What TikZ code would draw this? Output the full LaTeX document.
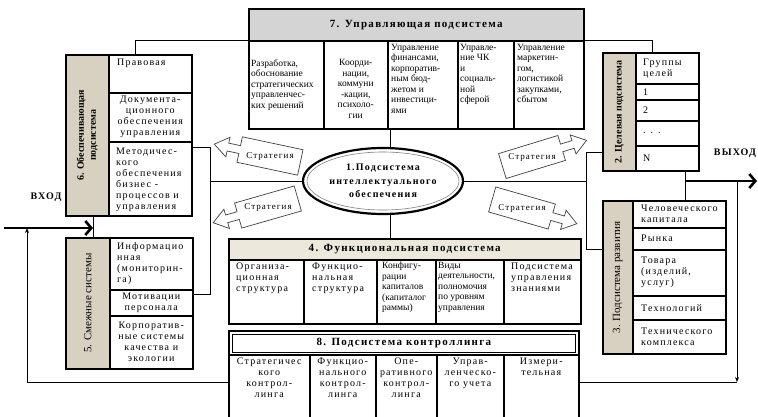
\documentclass[tikz,border=0pt]{standalone}
\usepackage{fontspec}
\setmainfont{Liberation Serif}
\newfontfamily\trackedserif[LetterSpace=12]{Liberation Serif}
\usetikzlibrary{shapes.geometric,arrows.meta,calc}
\pgfdeclarelayer{paper}
\pgfdeclarelayer{lines}
\pgfsetlayers{paper,lines,main}

\definecolor{headgray}{RGB}{212,212,212}
\definecolor{sidetan}{RGB}{216,209,193}
\definecolor{lighttan}{RGB}{236,232,220}

\newcommand\cellfont{\trackedserif\fontsize{10}{11}\selectfont}
\newcommand\tightfont{\rmfamily\fontsize{9.5}{10.5}\selectfont}
\newcommand\headfont{\trackedserif\bfseries\fontsize{11}{13}\selectfont}

\tikzset{
  frame/.style={draw, line width=1.5pt},
  cellbox/.style={frame, fill=white, inner sep=0pt},
  ctext/.style={inner sep=0pt, font=\cellfont, align=left},
  conn/.style={draw, line width=1pt},
  bigarrow/.style={line width=2.6pt, -{Straight Barb[length=6pt,width=14pt]}},
  smallarrow/.style={conn, -{Stealth[length=5pt,width=4pt]}},
  stratline/.style={draw=black!75, fill=white, line width=0.7pt},
  stratlbl/.style={inner sep=0pt, font=\trackedserif\fontsize{9}{10}\selectfont},
  strat/.pic={
    \path[stratline] (-31,-13) -- (31,-13) -- (31,-4) -- (43,-4) -- (43,-10)
      -- (57,0) -- (43,10) -- (43,4) -- (31,4) -- (31,13) -- (-31,13) -- cycle;
  },
}

% name, x1, y1, x2, y2, anchor of the frame for the text, text options, text
\newcommand\cellat[8]{%
  \node[cellbox, anchor=north west, minimum width={(#4-#2)*1pt},
        minimum height={(#5-#3)*1pt}] (#1) at (#2,#3) {};
  \node[ctext, #7] (#1t) at (#1.#6) {#8};
}

\begin{document}
\begin{tikzpicture}[x=1pt,y=-1pt]
\begin{pgfonlayer}{paper}
\fill[white] (0,0) rectangle (758,416);
\end{pgfonlayer}
\useasboundingbox (0,0) rectangle (758,416);

% junction points of the connectors
\coordinate (topL) at (135,40);
\coordinate (topR) at (652,40);
\coordinate (lbTop) at (210,147);
\coordinate (lbBot) at (210,294);
\coordinate (rbTop) at (586,152);
\coordinate (rbBot) at (586,249);
\coordinate (inL) at (4,228);
\coordinate (v65) at (93,228);
\coordinate (oj) at (685,181);
\coordinate (outE) at (757,181);
\coordinate (fbL) at (27,382);
\coordinate (fbR) at (737,382);

% ---------- central ellipse ----------
\node[ellipse, draw, line width=2.2pt, minimum width=160pt, minimum height=66pt,
      inner sep=0pt, fill=white] (ell) at (383,181) {};
\node[ellipse, draw=gray, line width=0.6pt, minimum width=152pt, minimum height=58pt,
      inner sep=0pt] (ellin) at (ell.center) {};
\node[align=center, font=\trackedserif\bfseries\fontsize{10}{13.5}\selectfont]
      (ellt) at (ell.center) {1.Подсистема\\интеллектуального\\обеспечения};

% ---------- 7. control subsystem ----------
\node[frame, fill=headgray, anchor=north west, minimum width=335pt,
      minimum height=32pt, font=\headfont] (h7) at (248,8) {7. Управляющая подсистема};
\cellat{c71}{248}{40}{323}{128}{west}{font=\tightfont, anchor=west, xshift=3pt}
  {Разработка,\\обоснование\\стратегических\\управленчес-\\ких решений}
\cellat{c72}{323}{40}{387}{128}{center}{font=\tightfont, align=center, yshift=-4pt}
  {Коорди-\\нации,\\коммуни\\-кации,\\психоло-\\гии}
\cellat{c73}{387}{40}{457}{128}{north west}{font=\tightfont, anchor=north west, xshift=4pt, yshift=-4pt}
  {Управление\\финансами,\\корпоратив-\\ным бюд-\\жетом и\\инвестици-\\ями}
\cellat{c74}{457}{40}{513}{128}{north west}{font=\tightfont, anchor=north west, xshift=3pt, yshift=-4pt}
  {Управле-\\ние ЧК\\и\\социаль-\\ной\\сферой}
\cellat{c75}{513}{40}{583}{128}{north west}{font=\tightfont, anchor=north west, xshift=4pt, yshift=-4pt}
  {Управление\\маркетин-\\гом,\\логистикой\\закупками,\\сбытом}

% ---------- 6. supporting subsystem ----------
\node[frame, fill=sidetan, anchor=north west, minimum width=43pt,
      minimum height=161pt] (g6) at (65,54) {};
\node[rotate=90, align=center, font=\bfseries\fontsize{10}{12}\selectfont] (g6t)
      at (g6.center) {6. Обеспечивающая\\подсистема};
\cellat{c61}{108}{54}{191}{92}{north west}{anchor=north west, xshift=9pt, yshift=-5pt}{Правовая}
\cellat{c62}{108}{92}{191}{141}{center}{align=center}
  {Документа-\\ционного\\обеспечения\\управления}
\cellat{c63}{108}{141}{191}{215}{west}{anchor=west, xshift=8pt, yshift=-1pt}
  {Методичес-\\кого\\обеспечения\\бизнес -\\процессов и\\управления}

% ---------- 5. adjacent systems ----------
\node[frame, fill=sidetan, anchor=north west, minimum width=44pt,
      minimum height=131pt] (g5) at (65,237) {};
\node[rotate=90, font=\fontsize{11}{13}\selectfont] (g5t) at (g5.center) {5. Смежные системы};
\cellat{c51}{109}{237}{192}{289}{west}{anchor=west, xshift=8pt}
  {Информацио\\нная\\(мониторин-\\га)}
\cellat{c52}{109}{289}{192}{315}{center}{align=center}{Мотивации\\персонала}
\cellat{c53}{109}{315}{192}{368}{center}{align=center}
  {Корпоратив-\\ные системы\\качества и\\экологии}

% ---------- 2. target subsystem ----------
\node[frame, fill=sidetan, anchor=north west, minimum width=33pt,
      minimum height=118pt] (g2) at (602,52) {};
\node[rotate=90, font=\bfseries\fontsize{10}{12}\selectfont] (g2t) at (g2.center)
      {2. Целевая подсистема};
\cellat{c21}{635}{52}{698}{83}{west}{anchor=west, xshift=8pt}{Группы\\целей}
\cellat{c22}{635}{83}{698}{99}{west}{anchor=west, xshift=8pt}{1}
\cellat{c23}{635}{99}{698}{120}{west}{anchor=west, xshift=8pt}{2}
\cellat{c24}{635}{120}{698}{145}{west}{anchor=west, xshift=8pt}{. . .}
\cellat{c25}{635}{145}{698}{170}{west}{anchor=west, xshift=8pt}{N}

% ---------- 3. development subsystem ----------
\node[frame, fill=sidetan, anchor=north west, minimum width=30pt,
      minimum height=153pt] (g3) at (602,200) {};
\node[rotate=90, font=\fontsize{11}{13}\selectfont] (g3t) at (g3.center) {3. Подсистема развития};
\cellat{c31}{632}{200}{725}{227}{west}{anchor=west, xshift=9pt}{Человеческого\\капитала}
\cellat{c32}{632}{227}{725}{249}{west}{anchor=west, xshift=9pt}{Рынка}
\cellat{c33}{632}{249}{725}{295}{west}{anchor=west, xshift=9pt}{Товара\\(изделий,\\услуг)}
\cellat{c34}{632}{295}{725}{319}{west}{anchor=west, xshift=9pt}{Технологий}
\cellat{c35}{632}{319}{725}{353}{west}{anchor=west, xshift=9pt}{Технического\\комплекса}

% ---------- 4. functional subsystem ----------
\node[frame, fill=lighttan, anchor=north west, minimum width=352pt,
      minimum height=21pt, font=\headfont] (h4) at (228,238) {4. Функциональная подсистема};
\cellat{c41}{228}{259}{303}{323}{north west}{anchor=north west, xshift=8pt, yshift=-4pt}
  {Организа-\\ционная\\структура}
\cellat{c42}{303}{259}{376}{323}{north west}{anchor=north west, xshift=9pt, yshift=-4pt}
  {Функцио-\\нальная\\структура}
\cellat{c43}{376}{259}{435}{323}{north west}{font=\tightfont, anchor=north west, xshift=6pt, yshift=-3pt}
  {Конфигу-\\рации\\капиталов\\(капиталог\\раммы)}
\cellat{c44}{435}{259}{503}{323}{north west}{font=\tightfont, anchor=north west, xshift=3pt, yshift=-3pt}
  {Виды\\деятельности,\\полномочия\\по уровням\\управления}
\cellat{c45}{503}{259}{580}{323}{north west}{anchor=north west, xshift=8pt, yshift=-4pt}
  {Подсистема\\управления\\знаниями}

% ---------- 8. controlling subsystem ----------
\node[frame, line width=1.8pt, anchor=north west, minimum width=350pt,
      minimum height=24pt] (h8) at (228,330) {};
\node[draw, line width=0.6pt, minimum width=343pt, minimum height=18pt,
      font=\headfont] (h8in) at (h8.center) {8. Подсистема контроллинга};
\cellat{c81}{228}{354}{309}{420}{north}{anchor=north, align=center, yshift=-4pt}
  {Стратегичес\\кого\\контрол-\\линга}
\cellat{c82}{309}{354}{375}{420}{north}{anchor=north, align=center, yshift=-4pt}
  {Функцио-\\нального\\контрол-\\линга}
\cellat{c83}{375}{354}{436}{420}{north}{anchor=north, align=center, yshift=-4pt}
  {Опе-\\ративного\\контрол-\\линга}
\cellat{c84}{436}{354}{503}{420}{north}{anchor=north, align=center, yshift=-4pt}
  {Управ-\\ленческо-\\го учета}
\cellat{c85}{503}{354}{578}{420}{north}{anchor=north, align=center, yshift=-4pt}
  {Измери-\\тельная}

% ---------- connectors, kept beneath the boxes ----------
\begin{pgfonlayer}{lines}
\draw[conn] (c61.north -| topL) -- (topL) -- (topR) -- (c21.north -| topR);
\draw[conn] (c73.south -| ell.78) -- (ell.78);
\draw[conn] (ell.-78) -- (h4.north -| ell.-78);
\draw[conn] (c63.east |- lbTop) -- (lbTop) -- (lbBot) -- (c52.east |- lbBot);
\draw[conn] (lbTop |- ell.west) -- (ell.west);
\draw[conn] (g2.west |- rbTop) -- (rbTop) -- (rbBot) -- (g3.west |- rbBot);
\draw[conn] (ell.east) -- (rbTop |- ell.east);
\draw[conn] (g6.south -| v65) -- (g5.north -| v65);
\draw[conn] (c25.south -| oj) -- (c31.north -| oj);
\draw[smallarrow] (c81.west |- fbL) -- (fbL) -- (fbL |- inL);
\draw[smallarrow] (fbR |- outE) -- (fbR);
\draw[conn] (c85.east |- fbR) -- (fbR);
\end{pgfonlayer}
\draw[bigarrow] (inL) -- (v65);
\draw[bigarrow] (oj) -- (outE);

% ---------- strategy arrows ----------
\pic[rotate=168] at (270,156) {strat};
\node[stratlbl] (s1) at (270,156) {Стратегия};
\pic[rotate=196] at (268,207) {strat};
\node[stratlbl] (s2) at (268,207) {Стратегия};
\pic[rotate=17] at (532,157) {strat};
\node[stratlbl] (s3) at (532,157) {Стратегия};
\pic[rotate=-16] at (522,208) {strat};
\node[stratlbl] (s4) at (522,208) {Стратегия};

% ---------- input / output labels ----------
\node[font=\trackedserif\bfseries\fontsize{10}{11}\selectfont] (inlbl) at (46,197) {ВХОД};
\node[font=\trackedserif\bfseries\fontsize{10}{11}\selectfont] (outlbl) at (735,153) {ВЫХОД};
\end{tikzpicture}
\end{document}
